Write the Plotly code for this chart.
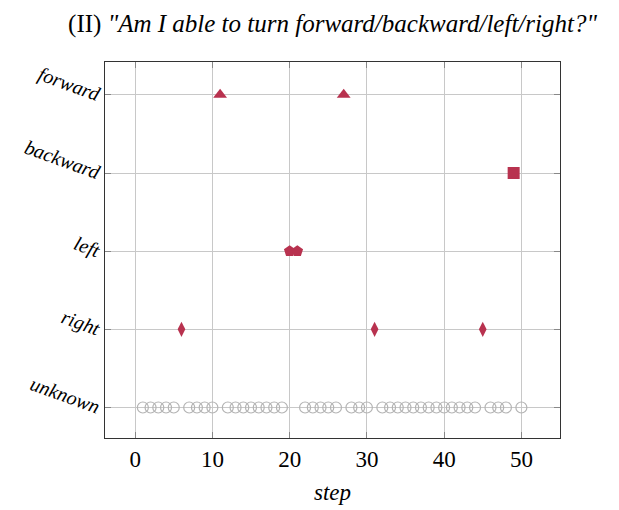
import plotly.graph_objects as go

# Answer given at each step of the episode
steps = list(range(1, 51))
answers = [
    "unknown", "unknown", "unknown", "unknown", "unknown",       # 1-5
    "right",                                                      # 6
    "unknown", "unknown", "unknown", "unknown",                   # 7-10
    "forward",                                                    # 11
    "unknown", "unknown", "unknown", "unknown", "unknown",
    "unknown", "unknown", "unknown",                              # 12-19
    "left", "left",                                               # 20-21
    "unknown", "unknown", "unknown", "unknown", "unknown",        # 22-26
    "forward",                                                    # 27
    "unknown", "unknown", "unknown",                              # 28-30
    "right",                                                      # 31
    "unknown", "unknown", "unknown", "unknown", "unknown", "unknown",
    "unknown", "unknown", "unknown", "unknown", "unknown", "unknown",
    "unknown",                                                    # 32-44
    "right",                                                      # 45
    "unknown", "unknown", "unknown",                              # 46-48
    "backward",                                                   # 49
    "unknown",                                                    # 50
]

categories = ["unknown", "right", "left", "backward", "forward"]
cat_pos = {c: i for i, c in enumerate(categories)}
x_ticks = [0, 10, 20, 30, 40, 50]

RED = "#b8324f"
GRAY = "#b4b4b4"
symbols = {
    "unknown": "circle-open",
    "right": "diamond-tall",
    "left": "pentagon",
    "backward": "square",
    "forward": "triangle-up",
}
sizes = {"unknown": 11, "right": 11, "left": 12, "backward": 12, "forward": 12}

fig = go.Figure()
for cat in categories:
    xs = [s for s, a in zip(steps, answers) if a == cat]
    ys = [cat_pos[cat]] * len(xs)
    if cat == "unknown":
        marker = dict(symbol=symbols[cat], size=sizes[cat], color=GRAY,
                      line=dict(color=GRAY, width=1.2))
    else:
        marker = dict(symbol=symbols[cat], size=sizes[cat], color=RED,
                      line=dict(width=0))
    fig.add_trace(go.Scatter(x=xs, y=ys, mode="markers", marker=marker,
                             name=cat, showlegend=False))

serif = "Liberation Serif, DejaVu Serif, serif"

fig.update_layout(
    width=619, height=510,
    margin=dict(l=105, r=59, t=62, b=72),
    paper_bgcolor="white", plot_bgcolor="white",
    font=dict(family=serif, size=22, color="black"),
    title=dict(
        text='(II) <i>"Am I able to turn forward/backward/left/right?"</i>',
        x=0.5, xref="paper", y=0.955, yanchor="middle",
        font=dict(family=serif, size=25, color="black"),
    ),
    xaxis=dict(
        range=[-3.9, 55], tickvals=x_ticks, ticktext=[str(v) for v in x_ticks],
        showgrid=True, gridcolor="#c8c8c8", gridwidth=1,
        zeroline=False, showline=True, linecolor="#333", linewidth=1,
        mirror="allticks", ticks="inside", ticklen=6, tickcolor="#888",
        tickfont=dict(size=23), automargin=False,
        title=dict(text="<i>step</i>", font=dict(size=23), standoff=13),
    ),
    yaxis=dict(
        range=[-0.39, 4.42], tickvals=list(range(len(categories))),
        ticktext=[f"<i>{c}</i>" for c in categories], tickangle=20,
        showgrid=True, gridcolor="#c8c8c8", gridwidth=1,
        zeroline=False, showline=True, linecolor="#333", linewidth=1,
        mirror="allticks", ticks="inside", ticklen=6, tickcolor="#888",
        tickfont=dict(size=20), automargin=False,
    ),
)

fig.write_html("out.html")
